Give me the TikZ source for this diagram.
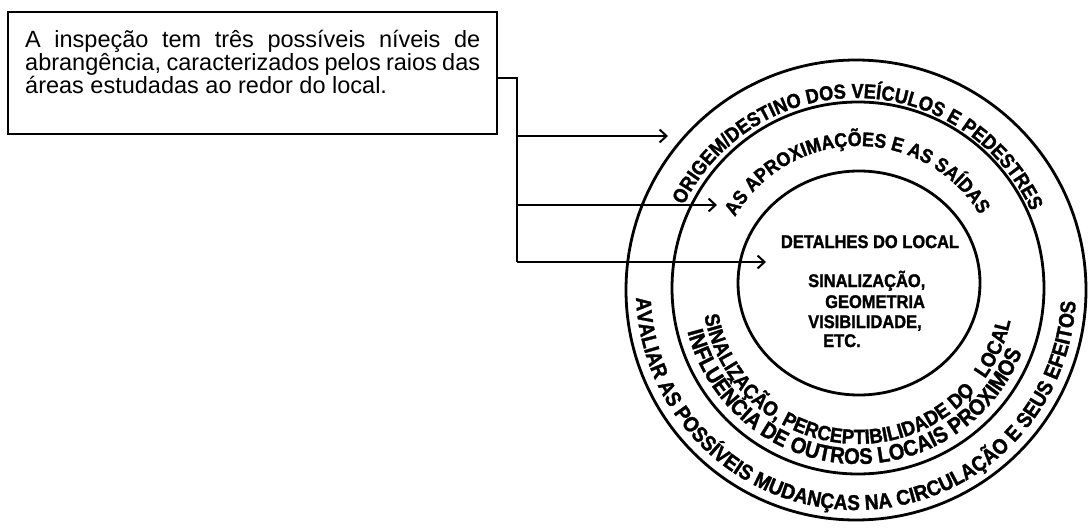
\documentclass[tikz,border=0pt]{standalone}
\usepackage{fontspec}
\setmainfont{Liberation Sans}
\newfontfamily\hbfam{Liberation Sans}[FakeStretch=0.9, FakeBold=1.5]
\usetikzlibrary{decorations.text,arrows.meta,shapes.geometric,calc}
\newcommand\fOrig{\hbfam\bfseries\fontsize{20.2}{22}\selectfont}
\newcommand\fApro{\hbfam\bfseries\fontsize{19.8}{22}\selectfont}
\newcommand\fAval{\hbfam\bfseries\fontsize{21.3}{23}\selectfont}
\newcommand\fSina{\hbfam\bfseries\fontsize{20.6}{23}\selectfont}
\newcommand\fInfl{\hbfam\bfseries\fontsize{22.4}{24}\selectfont}
\begin{document}
\begin{tikzpicture}[x=1pt,y=1pt,
  ring/.style={circle, draw, line width=2.8pt, inner sep=0pt},
  conn/.style={line width=2pt},
  arr/.style={line width=2pt, -{Straight Barb[length=7pt,width=13pt,line width=2pt]}},
  ctext/.style={inner sep=0pt, font=\hbfam\bfseries\fontsize{18.3}{20}\selectfont},
  arctext/.style={decorate, decoration={text along path, text align=center, text={#1}}}
]
\useasboundingbox (0,0) rectangle (1089,531);

% text box
\node[draw, line width=2.4pt, minimum width=489pt, minimum height=122pt, inner sep=0pt] (box) at (252.5,458) {};
\node[anchor=north west, inner sep=0pt, text width=455pt, align=justify,
      font=\fontsize{23.5}{21.7}\selectfont] (boxtext) at (25,501.5)
  {\hyphenpenalty=10000 A inspeção tem três possíveis níveis de\linebreak abrangência, caracterizados pelos raios das\linebreak áreas estudadas ao redor do local.};

% circles
\node[ring, minimum size=460pt] (outer) at (856,241) {};
\node[ring, minimum size=372pt] (middle) at (858,243) {};
\node[ring, ellipse, minimum width=242pt, minimum height=224pt] (inner) at (859,248) {};

% arc texts
\path[arctext={|\fOrig|ORIGEM/DESTINO DOS VEÍCULOS E PEDESTRES}]
  ($(outer.center)+(179:192)$) arc[start angle=179, end angle=-1, radius=192];
\path[arctext={|\fApro|AS APROXIMAÇÕES E AS SAÍDAS}]
  ($(middle.center)+(180.5:142)$) arc[start angle=180.5, end angle=0.5, radius=142];
\path[arctext={|\fAval|AVALIAR AS POSSÍVEIS MUDANÇAS NA CIRCULAÇÃO E SEUS EFEITOS}]
  ($(outer.center)+(169.5:220)$) arc[start angle=169.5, end angle=369.5, radius=220];
\path[arctext={|\fSina|SINALIZAÇÃO, PERCEPTIBILIDADE DO {\ } LOCAL}]
  ($(middle.center)+(169:156)$) arc[start angle=169, end angle=369, radius=156];
\path[arctext={|\fInfl|INFLUÊNCIA DE OUTROS LOCAIS PRÓXIMOS}]
  ($(middle.center)+(166.5:176)$) arc[start angle=166.5, end angle=366.5, radius=176];

% centre texts
\node[ctext, anchor=base] (det) at (870,283) {DETALHES DO LOCAL};
\node[ctext, anchor=base west] (sin) at (808,244) {SINALIZAÇÃO,};
\node[ctext, anchor=base west] (geo) at (825,223) {GEOMETRIA};
\node[ctext, anchor=base west] (vis) at (808,203) {VISIBILIDADE,};
\node[ctext, anchor=base west] (etc) at (823,184) {ETC.};

% connectors
\coordinate (bus) at (517,453);
\coordinate (busend) at (517,269);
\coordinate (t1) at (668,395);
\coordinate (t2) at (717,326);
\coordinate (t3) at (766,269);
\draw[conn] (box.east |- bus) -- (bus) -- (busend);
\draw[arr] (bus |- t1) -- (t1);
\draw[arr] (bus |- t2) -- (t2);
\draw[arr] (busend) -- (t3);
\end{tikzpicture}
\end{document}
